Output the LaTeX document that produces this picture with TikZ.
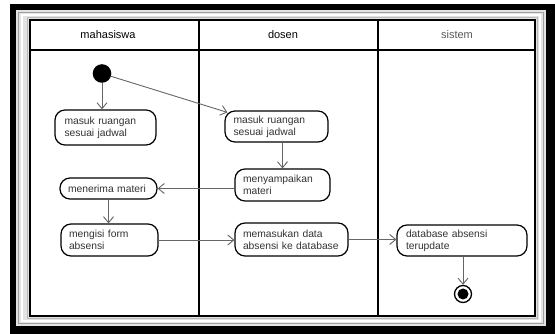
\documentclass[tikz,border=0pt]{standalone}
\usepackage{fontspec}
\setmainfont{Liberation Sans}
\usetikzlibrary{arrows.meta,calc}

\begin{document}
\begin{tikzpicture}[x=1pt,y=-1pt,
  act/.style={draw=black, line width=1.2pt, rounded corners=10pt, align=left,
    inner xsep=0pt, inner ysep=0pt, fill=white,
    font=\fontsize{10.3}{12}\selectfont, text=black!80},
  flow/.style={draw=black!60, line width=0.9pt,
    -{Straight Barb[length=6pt,width=10pt,line width=0.9pt]}},
  lane/.style={line width=1.4pt, draw=black},
  head/.style={font=\fontsize{11}{13}\selectfont, inner sep=0pt}
]
\useasboundingbox (0,0) rectangle (555,334);
\fill[white] (0,0) rectangle (555,334);

% bevelled picture frame
\fill[black] (10,4) rectangle (555,334);
\fill[gray!22] (16,10) rectangle (546,326);
\draw[gray!75, line width=1pt] (18.5,12.5) rectangle (543.5,323.5);
\draw[white, line width=2.5pt] (22,15) rectangle (540,321);
\draw[gray!55, line width=1pt] (27,18) rectangle (537.5,318.5);

% swimlane table
\fill[white] (30,20) rectangle (535,316);
\draw[lane] (30,20) rectangle (535,316);
\draw[lane] (30,50) -- (535,50);
\draw[lane] (199,20) -- (199,316);
\draw[lane] (378,20) -- (378,316);

\node[head] (h1) at (108,35) {mahasiswa};
\node[head] (h2) at (283,35) {dosen};
\node[head, text=black!65] (h3) at (457,35) {sistem};

% activities
\node[circle, fill=black, minimum size=18.6pt, inner sep=0pt] (start) at (102,73.5) {};

\node[act, minimum width=101pt, minimum height=35pt, text width=82pt] (am) at (105.5,127.5) {masuk ruangan\\sesuai jadwal};
\node[act, minimum width=103pt, minimum height=31pt, text width=86pt] (dm) at (276.5,126.5) {masuk ruangan\\sesuai jadwal};
\node[act, minimum width=95pt, minimum height=32pt, text width=79pt] (dsm) at (282.5,185) {menyampaikan\\materi};
\node[act, minimum width=97pt, minimum height=21pt, text width=81pt] (mt) at (108.5,188.5) {menerima materi};
\node[act, minimum width=97pt, minimum height=32pt, text width=81pt] (mf) at (109.5,240) {mengisi form\\absensi};
\node[act, minimum width=113pt, minimum height=33pt, text width=97pt] (md) at (291.5,239.5) {memasukan data\\absensi ke database};
\node[act, minimum width=130pt, minimum height=31pt, text width=112pt] (db) at (462,240.5) {database absensi\\terupdate};

\node[circle, draw=black, line width=1.3pt, fill=white, minimum size=17pt, inner sep=0pt] (end) at (463,294) {};
\node[circle, fill=black, minimum size=11pt, inner sep=0pt] (endcore) at (end) {};

% control flow
\draw[flow] (start) -- (start |- am.north);
\draw[flow] (start) -- ($(dm.north west)+(3,2)$);
\draw[flow] (dm.south -| dsm.north) -- (dsm.north);
\draw[flow] (dsm.west |- mt.east) -- (mt.east);
\draw[flow] (mt.south) -- (mt.south |- mf.north);
\draw[flow] (mf.east) -- (mf.east -| md.west);
\draw[flow] (md.east) -- (md.east -| db.west);
\draw[flow] (end |- db.south) -- (end.north);
\end{tikzpicture}
\end{document}
